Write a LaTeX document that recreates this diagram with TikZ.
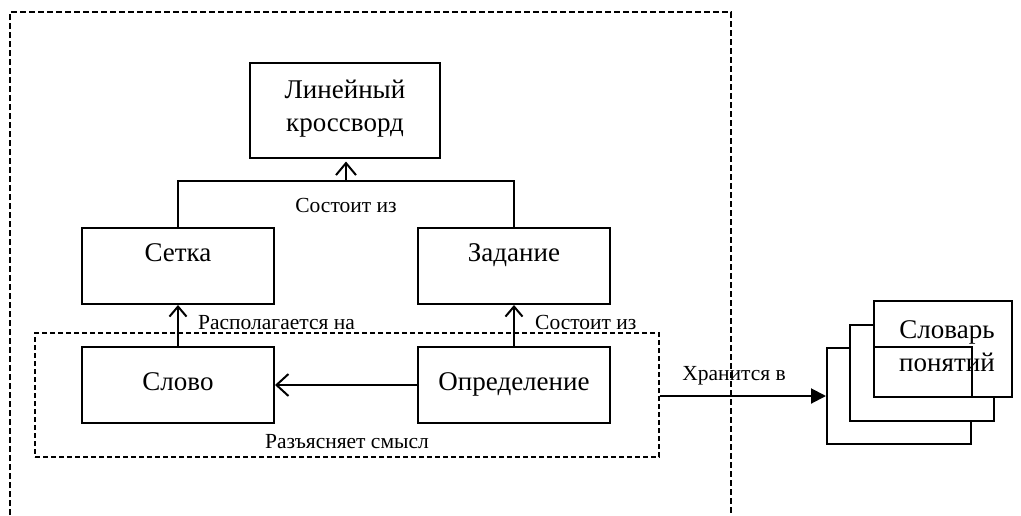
\documentclass[tikz,border=0pt]{standalone}
\usepackage{fontspec}
\setmainfont{Liberation Serif}
\usetikzlibrary{arrows.meta,calc}
\begin{document}
\begin{tikzpicture}[x=1pt,y=-1pt,
  box/.style={draw,line width=2pt,rectangle,inner sep=0pt},
  btext/.style={font=\fontsize{27}{33}\selectfont,align=center,inner sep=0pt},
  one/.style={text height=0.68em,text depth=0.22em},
  lbl/.style={font=\fontsize{21.5}{25}\selectfont,inner sep=0pt,text height=0.68em,text depth=0.22em},
  con/.style={line width=2pt},
  barb/.style={-{Straight Barb[length=10pt,width=17pt,line width=2pt]}},
  bigbarb/.style={-{Straight Barb[length=12pt,width=22pt,line width=2pt]}},
  dashbox/.style={draw,line width=1.6pt,dash pattern=on 5pt off 3pt}
]
\useasboundingbox (0,0) rectangle (1021,515);
% outer dashed frame (open at the bottom)
\draw[dashbox,line width=1.8pt,dash pattern=on 6pt off 3pt] (10,515) -- (10,12) -- (731,12) -- (731,515);
% inner dashed group
\node[dashbox,minimum width=624pt,minimum height=124pt,inner sep=0pt] (group) at (347,395) {};
% boxes
\node[box,minimum width=190pt,minimum height=95pt] (top) at (345,110) {};
\node[btext] (toptext) at (345,109) {Линейный\\кроссворд};
\node[box,minimum width=192pt,minimum height=76pt] (setka) at (178,266) {};
\node[btext,one] (setkatext) at (178,259) {Сетка};
\node[box,minimum width=192pt,minimum height=76pt] (zadanie) at (514,266) {};
\node[btext,one] (zadanietext) at (514,259) {Задание};
\node[box,minimum width=192pt,minimum height=76pt] (slovo) at (178,385) {};
\node[btext,one] (slovotext) at (178,388) {Слово};
\node[box,minimum width=192pt,minimum height=76pt] (opred) at (514,385) {};
\node[btext,one] (opredtext) at (514,388) {Определение};
% stacked dictionary boxes
\node[box,minimum width=144pt,minimum height=96pt] (back) at (899,396) {};
\node[box,fill=white,minimum width=144pt,minimum height=96pt] (middle) at (922,373) {};
\node[box,fill=white,minimum width=138pt,minimum height=96pt] (front) at (943,349) {};
\draw[con] (front.west |- back.north) -- (back.north east) -- (back.east |- front.south);
\node[btext] (fronttext) at (947,346) {Словарь\\понятий};
% connectors
\coordinate (join) at (346,181);
\draw[con] (setka.north) -- (setka.north |- join) -- (zadanie.north |- join) -- (zadanie.north);
\draw[con,-{Straight Barb[length=12pt,width=20pt,line width=2pt]}] (join) -- ($(top.south)+(1,3)$);
\node[lbl] (l1) at (346,210) {Состоит из};
\draw[con,barb] (slovo.north) -- (setka.south);
\node[lbl,anchor=west] (l2) at (198,327) {Располагается на};
\draw[con,barb] (opred.north) -- (zadanie.south);
\node[lbl,anchor=west] (l3) at (535,327) {Состоит из};
\draw[con,bigbarb] (opred.west) -- (slovo.east);
\node[lbl] (l4) at (347,446) {Разъясняет смысл};
\draw[con,-{Triangle[length=15pt,width=15pt]}] (group.east |- back.west) -- (back.west);
\node[lbl] (l5) at (734,378) {Хранится в};
\end{tikzpicture}
\end{document}
